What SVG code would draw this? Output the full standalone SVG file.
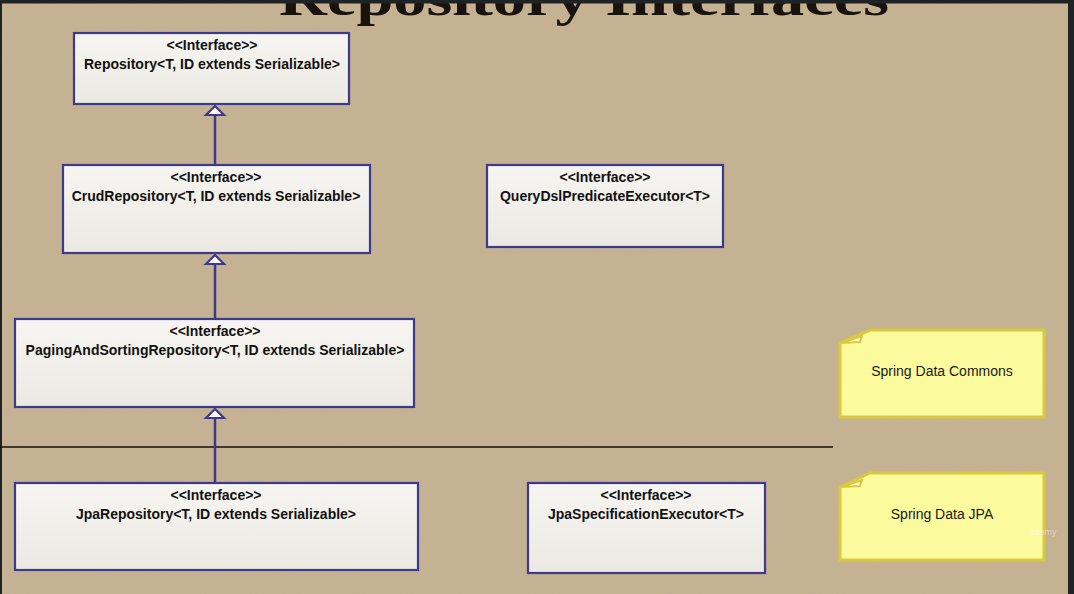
<svg xmlns="http://www.w3.org/2000/svg" width="1074" height="594" viewBox="0 0 1074 594">
<style>
.box{fill:url(#boxg);stroke:#3d3a8c;stroke-width:2.2}
.st{font-family:"Liberation Sans",Arial,sans-serif;font-weight:bold;font-size:14px;fill:#111;text-anchor:middle}
.note{fill:#fbfa9c;stroke:#d9c93c;stroke-width:3;stroke-linejoin:miter}
.fold{fill:#fdfdd0;stroke:#d9c93c;stroke-width:2}
.nt{font-family:"Liberation Sans",Arial,sans-serif;font-size:14px;fill:#1a1a1a;text-anchor:middle}
.conn{stroke:#3d3a8c;stroke-width:2.5;fill:none}
.tri{fill:#ffffff;stroke:#3d3a8c;stroke-width:2.2;stroke-linejoin:miter}
</style>
<defs>
<linearGradient id="boxg" x1="0" y1="0" x2="0" y2="1">
<stop offset="0" stop-color="#f6f5f1"/>
<stop offset="1" stop-color="#ebe9e2"/>
</linearGradient>
<filter id="grain" x="0" y="0" width="100%" height="100%">
<feTurbulence type="fractalNoise" baseFrequency="0.9" numOctaves="2" seed="3" result="n"/>
<feColorMatrix type="matrix" values="0 0 0 0 0.45  0 0 0 0 0.38  0 0 0 0 0.28  0 0 0 0.18 0"/>
</filter>
</defs>
<rect x="0" y="0" width="1074" height="594" fill="#c6b393"/>
<rect x="0" y="0" width="1074" height="594" filter="url(#grain)"/>
<text x="584" y="15" font-family="'Liberation Serif','Times New Roman',serif" font-weight="bold" font-size="50" fill="#1a120c" text-anchor="middle" textLength="610" lengthAdjust="spacingAndGlyphs">Repository Interfaces</text>
<rect x="0" y="0" width="1074" height="3.5" fill="#202326"/>
<rect x="1068" y="0" width="6" height="594" fill="#202326"/>
<rect x="0" y="0" width="2" height="594" fill="#202326"/>

<line x1="0" y1="447" x2="833" y2="447" stroke="#111" stroke-width="1.3"/>

<g id="connectors">
<line class="conn" x1="215" y1="115" x2="215" y2="165"/>
<polygon class="tri" points="215,106 206,115 224,115"/>
<line class="conn" x1="215" y1="264" x2="215" y2="319"/>
<polygon class="tri" points="215,255 206,264 224,264"/>
<line class="conn" x1="215" y1="418" x2="215" y2="483"/>
<polygon class="tri" points="215,409 206,418 224,418"/>
</g>

<g id="repository">
<rect class="box" x="74" y="33" width="275" height="71"/>
<text class="st" x="212" y="50">&lt;&lt;Interface&gt;&gt;</text>
<text class="st" x="212" y="69">Repository&lt;T, ID extends Serializable&gt;</text>
</g>
<g id="crud">
<rect class="box" x="63" y="165" width="307" height="88"/>
<text class="st" x="216" y="182">&lt;&lt;Interface&gt;&gt;</text>
<text class="st" x="216" y="201">CrudRepository&lt;T, ID extends Serializable&gt;</text>
</g>
<g id="querydsl">
<rect class="box" x="487" y="165" width="236" height="82"/>
<text class="st" x="605" y="182">&lt;&lt;Interface&gt;&gt;</text>
<text class="st" x="605" y="201">QueryDslPredicateExecutor&lt;T&gt;</text>
</g>
<g id="paging">
<rect class="box" x="15" y="319" width="399" height="88"/>
<text class="st" x="215" y="336">&lt;&lt;Interface&gt;&gt;</text>
<text class="st" x="215" y="355">PagingAndSortingRepository&lt;T, ID extends Serializable&gt;</text>
</g>
<g id="jpa">
<rect class="box" x="15" y="483" width="403" height="87"/>
<text class="st" x="216" y="500">&lt;&lt;Interface&gt;&gt;</text>
<text class="st" x="216" y="519">JpaRepository&lt;T, ID extends Serializable&gt;</text>
</g>
<g id="jpaspec">
<rect class="box" x="528" y="483" width="237" height="90"/>
<text class="st" x="646" y="500">&lt;&lt;Interface&gt;&gt;</text>
<text class="st" x="646" y="519">JpaSpecificationExecutor&lt;T&gt;</text>
</g>
<g id="note-commons">
<path class="note" d="M840,343 L870,330 L1044,330 L1044,417 L840,417 Z"/>
<path class="fold" d="M841,343 L862,336 L860,342 Z"/>
<text class="nt" x="942" y="376">Spring Data Commons</text>
</g>
<g id="note-jpa">
<path class="note" d="M840,487 L870,473 L1044,473 L1044,560 L840,560 Z"/>
<path class="fold" d="M841,487 L862,480 L860,486 Z"/>
<text class="nt" x="942" y="519">Spring Data JPA</text>
</g>
<text x="1043" y="535" font-family="'Liberation Sans',Arial,sans-serif" font-size="9" fill="#ffffff" fill-opacity="0.45" text-anchor="middle">ûdemy</text>
</svg>
